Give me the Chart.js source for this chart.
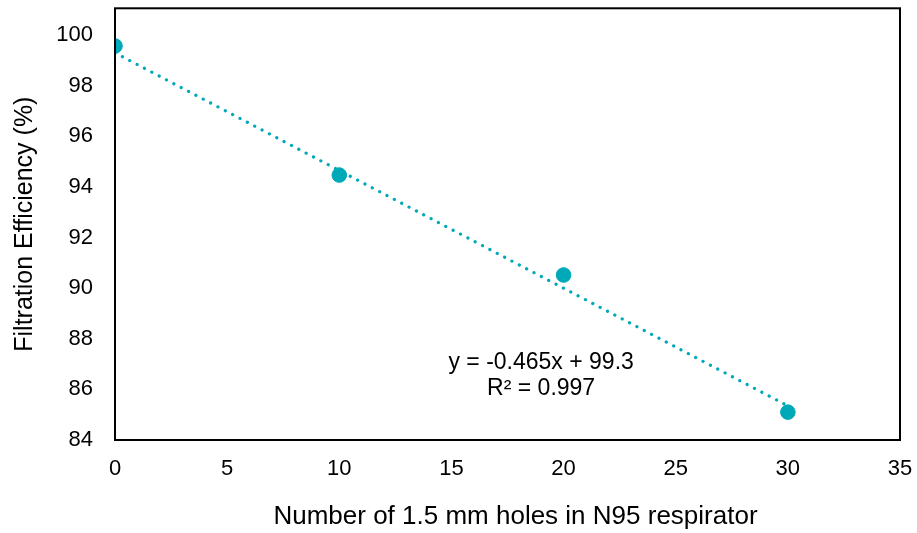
<!DOCTYPE html>
<html>
<head>
<meta charset="utf-8">
<script src="https://cdn.jsdelivr.net/npm/chart.js@4.4.0/dist/chart.umd.min.js"></script>
<style>
  html, body { margin: 0; padding: 0; background: #fff; }
  #wrap { width: 917px; height: 533px; }
</style>
</head>
<body>
<div id="wrap"><canvas id="myChart" width="917" height="533"></canvas></div>
<script>
// measured values
const holes = [0, 10, 20, 30]
const efficiency = [99.57, 94.47, 90.52, 85.1]
const xTicks = [0, 5, 10, 15, 20, 25, 30, 35]
const yTicks = [84, 86, 88, 90, 92, 94, 96, 98, 100]
const xTitle = 'Number of 1.5 mm holes in N95 respirator'
const yTitle = 'Filtration Efficiency (%)'

// trendline as printed on the chart
const slope = -0.465
const intercept = 99.3
const eqLines = ['y = -0.465x + 99.3', 'R² = 0.997']

const teal = '#00A9B8'
const font = 'Liberation Sans, Arial, sans-serif'

const pts = holes.map((x, i) => ({ x: x, y: efficiency[i] }))
const trend = [holes[0], holes[holes.length - 1]].map(x => ({ x: x, y: intercept + slope * x }))

const boxPlugin = {
    id: 'box',
    afterDatasetsDraw(chart) {
        const a = chart.chartArea
        const ctx = chart.ctx
        ctx.save()
        ctx.strokeStyle = '#000'
        ctx.lineWidth = 2
        ctx.strokeRect(a.left, a.top, a.right - a.left, a.bottom - a.top)
        ctx.restore()
    },
    afterDraw(chart) {
        const ctx = chart.ctx
        const a = chart.chartArea
        const sx = chart.scales.x, sy = chart.scales.y
        const cx = sx.getPixelForValue(19)
        const cy = sy.getPixelForValue(87.05)
        ctx.save()
        ctx.fillStyle = '#000'
        ctx.textAlign = 'center'
        ctx.textBaseline = 'middle'
        ctx.font = '23px ' + font
        ctx.fillText(eqLines[0], cx, cy)
        ctx.fillText(eqLines[1], cx, cy + 26)
        // x axis title, a little right of centre like the original
        ctx.font = '26px ' + font
        ctx.fillText(xTitle, (a.left + a.right) / 2 + 8, 517)
        ctx.restore()
    }
}

const config = {
    type: 'scatter',
    data: {
        datasets: [{
            label: 'data',
            data: pts,
            backgroundColor: teal,
            borderColor: teal,
            pointRadius: 7.3,
            pointHoverRadius: 7.3,
            order: 0
        }, {
            label: 'trend',
            type: 'line',
            data: trend,
            borderColor: teal,
            borderWidth: 3.2,
            borderDash: [0.1, 8.2],
            borderCapStyle: 'round',
            pointRadius: 0,
            fill: false,
            order: 1
        }]
    },
    options: {
        responsive: false,
        animation: false,
        layout: { padding: { top: 6, right: 17, left: 0, bottom: 0 } },
        plugins: { legend: { display: false }, tooltip: { enabled: false } },
        scales: {
            x: {
                type: 'linear',
                min: 0,
                max: 35,
                afterBuildTicks: s => { s.ticks = xTicks.map(v => ({ value: v })) },
                afterFit: s => { s.height = 93; s.paddingLeft = 0; s.paddingRight = 0 },
                grid: { display: false },
                border: { display: false },
                ticks: { color: '#000', font: { family: font, size: 22 }, padding: 8 },
                title: { display: false }
            },
            y: {
                type: 'linear',
                min: 84,
                max: 101.06,
                afterBuildTicks: s => { s.ticks = yTicks.map(v => ({ value: v })) },
                afterFit: s => { s.width = 115; s.paddingTop = 0; s.paddingBottom = 0 },
                grid: { display: false },
                border: { display: false },
                ticks: { color: '#000', font: { family: font, size: 22 }, padding: 14 },
                title: {
                    display: true,
                    text: yTitle,
                    color: '#000',
                    font: { family: font, size: 25 },
                    padding: { top: 10, bottom: 0 }
                }
            }
        }
    },
    plugins: [boxPlugin]
}

const myChart = new Chart(document.getElementById('myChart'), config)
</script>
</body>
</html>
